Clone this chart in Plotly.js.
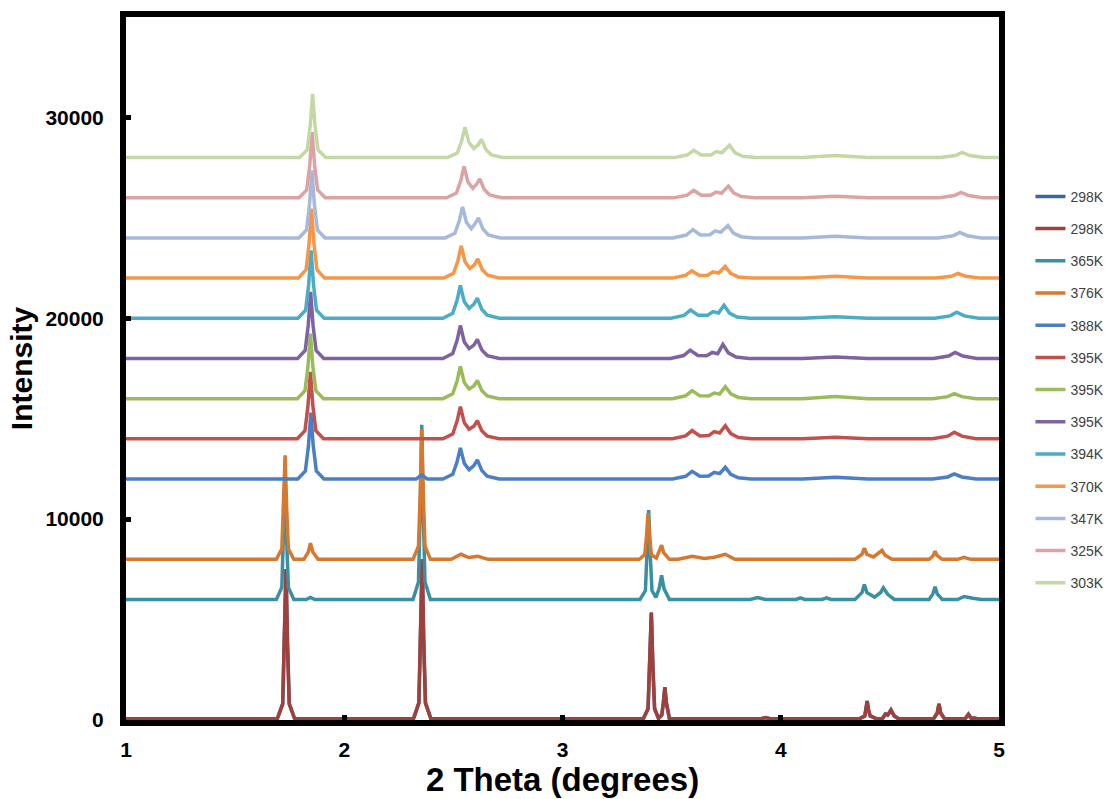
<!DOCTYPE html>
<html><head><meta charset="utf-8">
<script src="https://cdn.plot.ly/plotly-3.0.1.min.js"></script>
<style>html,body{margin:0;padding:0;background:#fff}#chart{width:1107px;height:799px}</style>
</head><body><div id="chart"></div>
<script>
// Legend names in series order (first drawn first)
const seriesNames = ['298K','298K','365K','376K','388K','395K','395K','395K','394K','370K','347K','325K','303K'];
// Vertical stacking offsets of each pattern (intensity units)
const offsets = [0,0,6000,8000,12000,14000,16000,18000,20000,22000,24000,26000,28000];
const colors = ['#3c6699','#a0403c','#3a8fa3','#d7782f','#4a7ec6','#c3504d','#9bbb59','#7f62a1','#4aacc6','#f79646','#a6b9da','#dca3a4','#c4d8a5'];

// 298K pattern (both 298K series)
const x298 = [1.0,1.693,1.718,1.726,1.733,1.740,1.748,1.773,2.317,2.342,2.350,2.357,2.364,2.372,2.397,3.37,3.392,3.4,3.407,3.414,3.422,3.44,3.455,3.462,3.469,3.476,3.49,3.91,3.93,3.95,4.36,4.385,4.39,4.396,4.402,4.41,4.44,4.465,4.48,4.49,4.505,4.52,4.54,4.70,4.717,4.725,4.733,4.75,4.845,4.86,4.872,4.885,4.9,5.0];
const y298 = [60,60,800,3800,7500,3800,800,60,60,850,4000,8000,4000,850,60,60,560,2700,5350,2700,560,80,250,850,1630,850,60,60,120,60,60,200,500,950,500,200,60,60,300,250,500,200,60,60,350,800,350,60,60,280,90,100,60,60];

// 365K
const x365 = [1.0,1.689,1.714,1.722,1.729,1.736,1.744,1.769,1.825,1.845,1.865,2.315,2.340,2.348,2.355,2.362,2.370,2.395,3.355,3.380,3.388,3.395,3.402,3.41,3.428,3.443,3.454,3.465,3.49,3.86,3.894,3.93,4.07,4.09,4.11,4.19,4.21,4.23,4.34,4.372,4.383,4.395,4.43,4.458,4.47,4.49,4.52,4.68,4.697,4.707,4.717,4.74,4.81,4.84,4.88,4.92,5.0];
const y365 = [0,0,600,3000,6000,3000,600,0,0,100,0,0,870,4350,8700,4350,870,0,0,445,2225,4450,2225,445,100,540,1200,540,0,0,100,0,0,80,0,0,80,0,0,340,750,340,120,350,580,260,0,0,280,630,280,0,0,150,60,0,0];

// 376K
const x376 = [1.0,1.689,1.714,1.722,1.729,1.736,1.744,1.769,1.815,1.835,1.845,1.856,1.88,2.315,2.340,2.348,2.355,2.362,2.370,2.395,2.49,2.535,2.57,2.612,2.66,3.352,3.377,3.385,3.392,3.399,3.407,3.43,3.454,3.464,3.49,3.53,3.594,3.65,3.695,3.746,3.79,4.34,4.372,4.383,4.395,4.425,4.464,4.478,4.51,4.68,4.698,4.707,4.717,4.74,4.81,4.84,4.87,5.0];
const y376 = [0,0,518,2590,5180,2590,518,0,0,360,800,360,0,0,650,3250,6500,3250,650,0,0,250,90,150,0,0,230,1150,2300,1150,230,60,700,315,0,0,150,40,100,250,0,0,250,550,250,120,450,200,0,0,180,400,180,0,0,100,0,0];

// 388K
const x388 = [1.0,1.787,1.822,1.836,1.847,1.858,1.872,1.907,2.33,2.355,2.38,2.452,2.497,2.517,2.532,2.550,2.572,2.594,2.610,2.630,2.655,2.710,3.504,3.564,3.594,3.629,3.670,3.695,3.720,3.746,3.771,3.806,3.866,4.1,4.25,4.4,4.695,4.765,4.795,4.830,4.895,5.0];
const y388 = [0,0,396,1650,3300,1650,396,0,0,200,0,0,233,853,1550,775,465,665,950,428,143,0,0,133,380,133,149,330,264,580,232,58,0,0,80,0,0,100,250,100,0,0];

// 395K (red, green) share positions
const x395a = [1.0,1.785,1.82,1.834,1.845,1.856,1.87,1.905,2.452,2.497,2.517,2.532,2.550,2.572,2.594,2.610,2.630,2.655,2.710,3.504,3.564,3.594,3.629,3.670,3.695,3.720,3.746,3.771,3.806,3.866,4.1,4.25,4.4,4.695,4.765,4.795,4.830,4.895,5.0];
const y395r = [0,0,400,1665,3330,1665,400,0,0,240,880,1600,800,480,630,900,405,135,0,0,144,410,144,162,360,288,650,260,65,0,0,80,0,0,132,330,132,0,0];
const y395g = [0,0,389,1620,3240,1620,389,0,0,240,880,1600,800,480,630,900,405,135,0,0,140,400,140,126,280,224,600,240,60,0,0,100,0,0,100,250,100,0,0];

// 395K purple
const x395p = [1.0,1.786,1.821,1.835,1.846,1.857,1.871,1.906,2.452,2.497,2.517,2.532,2.550,2.572,2.594,2.610,2.630,2.655,2.710,3.495,3.555,3.585,3.620,3.661,3.686,3.711,3.735,3.760,3.795,3.855,4.1,4.25,4.4,4.699,4.769,4.799,4.834,4.899,5.0];
const y395p = [0,0,397,1655,3310,1655,397,0,0,246,902,1640,820,492,665,950,428,143,0,0,145,415,145,135,300,240,700,280,70,0,0,70,0,0,120,300,120,0,0];

// 394K
const x394 = [1.0,1.788,1.823,1.837,1.848,1.859,1.873,1.908,2.452,2.497,2.517,2.532,2.550,2.572,2.594,2.610,2.630,2.655,2.710,3.497,3.557,3.587,3.622,3.665,3.69,3.715,3.74,3.765,3.80,3.86,4.1,4.25,4.4,4.706,4.776,4.806,4.841,4.906,5.0];
const y394 = [0,0,406,1690,3380,1690,406,0,0,246,902,1640,820,492,700,1000,450,150,0,0,145,415,145,149,330,264,650,260,65,0,0,80,0,0,120,300,120,0,0];

// 370K
const x370 = [1.0,1.79,1.825,1.839,1.850,1.861,1.875,1.91,2.456,2.501,2.521,2.536,2.554,2.576,2.596,2.612,2.632,2.657,2.712,3.502,3.562,3.592,3.627,3.665,3.69,3.715,3.745,3.77,3.805,3.865,4.1,4.25,4.4,4.712,4.782,4.812,4.847,4.912,5.0];
const y370 = [0,0,415,1730,3460,1730,415,0,0,240,880,1600,800,480,665,950,428,143,0,0,128,365,128,142,315,252,580,232,58,0,0,90,0,0,92,230,92,0,0];

// 347K
const x347 = [1.0,1.792,1.827,1.841,1.852,1.863,1.877,1.912,2.462,2.507,2.527,2.542,2.560,2.582,2.599,2.615,2.635,2.660,2.715,3.507,3.567,3.597,3.632,3.675,3.700,3.725,3.758,3.783,3.818,3.878,4.1,4.25,4.4,4.72,4.79,4.82,4.855,4.92,5.0];
const y347 = [0,0,403,1680,3360,1680,403,0,0,233,853,1550,775,465,700,1000,450,150,0,0,145,415,145,158,350,280,615,246,62,0,0,80,0,0,112,280,112,0,0];

// 325K
const x325 = [1.0,1.793,1.828,1.842,1.853,1.864,1.878,1.913,2.469,2.514,2.534,2.549,2.567,2.589,2.605,2.621,2.641,2.666,2.721,3.511,3.571,3.601,3.636,3.678,3.703,3.728,3.760,3.785,3.820,3.880,4.1,4.25,4.4,4.726,4.796,4.826,4.861,4.926,5.0];
const y325 = [0,0,392,1635,3270,1635,392,0,0,234,858,1560,780,468,658,940,423,141,0,0,128,365,128,126,280,224,580,232,58,0,0,80,0,0,108,270,108,0,0];

// 303K
const x303 = [1.0,1.795,1.83,1.844,1.855,1.866,1.88,1.915,2.473,2.518,2.538,2.553,2.571,2.593,2.613,2.629,2.649,2.674,2.729,3.511,3.571,3.601,3.636,3.68,3.705,3.73,3.765,3.79,3.825,3.885,4.1,4.25,4.4,4.731,4.801,4.831,4.866,4.931,5.0];
const y303 = [0,0,381,1588,3175,1588,381,0,0,228,836,1520,760,456,630,900,405,135,0,0,126,360,126,135,300,240,620,248,62,0,0,100,0,0,104,260,104,0,0];

const xTickVals = [1,2,3,4,5];
const xTickText = ['1','2','3','4','5'];
const yTickVals = [0,10000,20000,30000];
const yTickText = ['0','10000','20000','30000'];

const xs = [x298,x298,x365,x376,x388,x395a,x395a,x395p,x394,x370,x347,x325,x303];
const ys = [y298,y298,y365,y376,y388,y395r,y395g,y395p,y394,y370,y347,y325,y303];

const traces = seriesNames.map((n,i)=>({
  type:'scatter', mode:'lines', name:n,
  x: xs[i], y: ys[i].map(v=>v+offsets[i]),
  line:{color:colors[i], width:3.5, shape:'linear'},
  legendgroup:'g'+i, hoverinfo:'skip'
}));

const F = 'Liberation Sans, Arial, sans-serif';
const layout = {
  width:1107, height:799,
  margin:{l:126, r:108, t:17, b:79, autoexpand:false},
  paper_bgcolor:'#ffffff', plot_bgcolor:'#ffffff',
  font:{family:F, color:'#000'},
  showlegend:true,
  xaxis:{range:[1,5], tickvals:xTickVals, ticktext:xTickText, showgrid:false, zeroline:false,
    showline:true, linecolor:'#000', linewidth:6, mirror:true,
    ticks:'inside', ticklen:5, tickwidth:5, tickcolor:'#000', ticklabelstandoff:6,
    tickfont:{size:21, family:F, weight:700, color:'#000'},
    title:{text:'<b>2 Theta (degrees)</b>', font:{size:33, family:F, color:'#000'}, standoff:4}},
  yaxis:{range:[0,35000], tickvals:yTickVals, ticktext:yTickText, showgrid:false, zeroline:false,
    showline:true, linecolor:'#000', linewidth:6, mirror:true,
    ticks:'inside', ticklen:5, tickwidth:5, tickcolor:'#000', ticklabelstandoff:12,
    tickfont:{size:21, family:F, weight:700, color:'#000'},
    title:{text:'<b>Intensity</b>', font:{size:30, family:F, color:'#000'}, standoff:6}},
  legend:{x:1.036, xanchor:'left', y:0.767, yanchor:'top', font:{size:14, family:F, color:'#404040'},
    tracegroupgap:11, bgcolor:'rgba(0,0,0,0)', itemwidth:30}
};
Plotly.newPlot('chart', traces, layout, {displayModeBar:false, staticPlot:true});
</script></body></html>
